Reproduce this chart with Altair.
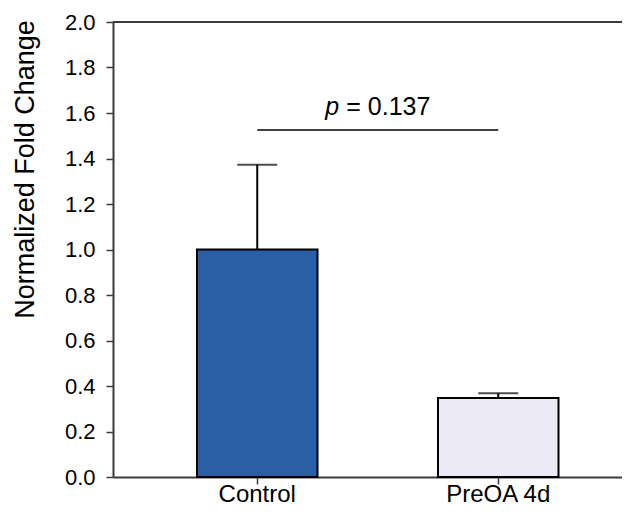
import altair as alt
import pandas as pd

# ---- data ----
categories = ["Control", "PreOA 4d"]
means = [1.0, 0.347]
upper = [1.373, 0.368]
bar_colors = ["#2a5ea5", "#ecebf5"]
y_ticks = [0.0, 0.2, 0.4, 0.6, 0.8, 1.0, 1.2, 1.4, 1.6, 1.8, 2.0]
y_title = "Normalized Fold Change"
p_symbol = "p"
p_rest = "= 0.137"
bracket_y = [1.525]
p_text_y = [1.591]
y_top = [2.0]

df = pd.DataFrame({"group": categories, "mean": means, "upper": upper})

W, H = 509, 455
FONT = "Liberation Sans"
AXIS_COLOR = "#3a3a3a"

x_scale = alt.Scale(domain=categories, paddingInner=0.5, paddingOuter=0.306, align=0.5695)
y_scale = alt.Scale(domain=[0, 2], nice=False)

x_axis = alt.Axis(
    title=None, labelAngle=0, labelFontSize=24, labelFont=FONT, labelColor="black",
    tickSize=7, tickColor=AXIS_COLOR, tickWidth=1.5, labelPadding=17,
    labelBaseline="alphabetic",
    domainColor=AXIS_COLOR, domainWidth=2, grid=False,
)
y_axis = alt.Axis(
    title=y_title, values=y_ticks, format=".1f", labelFontSize=22, labelFont=FONT,
    labelColor="black", tickSize=7, tickColor=AXIS_COLOR, tickWidth=1.5, labelPadding=11,
    domainColor=AXIS_COLOR, domainWidth=2, grid=False,
    titleFont=FONT, titleFontSize=27, titleFontWeight="normal", titleColor="black",
    titleAngle=270, titleX=-80, titleY=147, titleAlign="center", titleBaseline="alphabetic",
)

base = alt.Chart(df)

bars = base.mark_bar(stroke="black", strokeWidth=2).encode(
    x=alt.X("group:N", sort=categories, scale=x_scale, axis=x_axis),
    y=alt.Y("mean:Q", scale=y_scale, axis=y_axis),
    color=alt.Color("group:N", scale=alt.Scale(domain=categories, range=bar_colors), legend=None),
)

err = base.mark_rule(color="black", strokeWidth=2).encode(
    x=alt.X("group:N", sort=categories),
    y=alt.Y("mean:Q", title=y_title),
    y2="upper:Q",
)

caps = base.mark_tick(color="black", orient="horizontal", size=40, thickness=2).encode(
    x=alt.X("group:N", sort=categories),
    y=alt.Y("upper:Q", title=y_title),
)

top_df = pd.DataFrame({"v": y_top})
top_line = alt.Chart(top_df).mark_rule(color=AXIS_COLOR, strokeWidth=2).encode(
    x=alt.value(0), x2=alt.value(W), y=alt.Y("v:Q", title=y_title),
)

br_df = pd.DataFrame({"a": [categories[0]], "b": [categories[1]], "v": bracket_y})
bracket = alt.Chart(br_df).mark_rule(color="black", strokeWidth=1.5).encode(
    x=alt.X("a:N", title=None),
    x2="b:N",
    y=alt.Y("v:Q", title=y_title),
)

pt_df = pd.DataFrame({"a": [categories[0]], "v": p_text_y})
p_italic = alt.Chart(pt_df).mark_text(
    text=p_symbol, fontStyle="italic", align="right", baseline="alphabetic",
    dx=82, fontSize=25, font=FONT, color="black",
).encode(x=alt.X("a:N", title=None), y=alt.Y("v:Q", title=y_title))
p_value = alt.Chart(pt_df).mark_text(
    text=p_rest, align="left", baseline="alphabetic",
    dx=89, fontSize=25, font=FONT, color="black",
).encode(x=alt.X("a:N", title=None), y=alt.Y("v:Q", title=y_title))

chart = alt.layer(bars, err, caps, top_line, bracket, p_italic, p_value).properties(
    width=W, height=H,
    autosize=alt.AutoSizeParams(type="none"),
    padding={"left": 105, "top": 14, "right": 0, "bottom": 30},
    background="white",
).configure_view(stroke=None)

chart.save("out.html", embed_options={"renderer": "svg", "actions": False})
